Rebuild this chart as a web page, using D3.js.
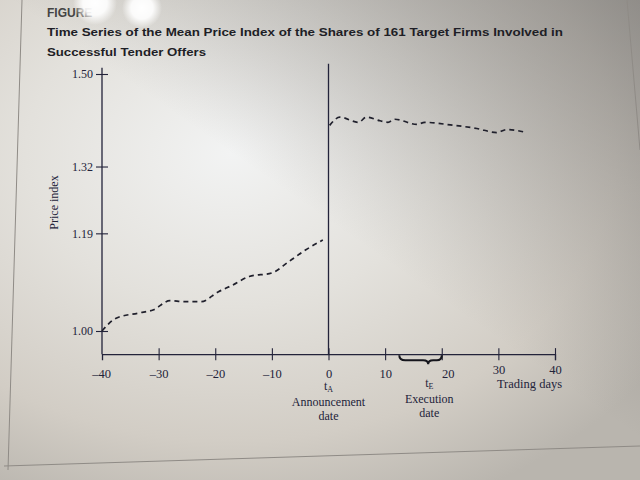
<!DOCTYPE html>
<html>
<head>
<meta charset="utf-8">
<script src="https://cdn.jsdelivr.net/npm/d3@7"></script>
<style>
  body { margin: 0; background: #d8d5cf; }
  svg { display: block; }
</style>
</head>
<body>
<div id="chart"></div>
<script>
// Values
let preDays   = [-40, -37.5, -33.5, -31, -28, -25.5, -22.5, -19.5, -17, -14, -10, -7, -4, -1];
let preIndex  = [1.000, 1.025, 1.035, 1.041, 1.059, 1.057, 1.057, 1.076, 1.089, 1.106, 1.113, 1.135, 1.158, 1.177];
let postDays  = [0.2, 2, 5.3, 6.7, 9.1, 10.5, 11.7, 15.6, 17, 21.5, 26.2, 29.7, 31.5, 35];
let postIndex = [1.400, 1.416, 1.406, 1.416, 1.409, 1.406, 1.412, 1.402, 1.406, 1.401, 1.394, 1.386, 1.392, 1.386];

let xTicks = [-40, -30, -20, -10, 0, 10, 20, 30, 40];
let yTicks = [1.00, 1.19, 1.32, 1.50];

let width = 640;
let height = 480;

let serif = "'Liberation Serif', 'DejaVu Serif', serif";
let sans = "'Liberation Sans', Arial, sans-serif";
let ink = "#23233a";

let x = d3.scaleLinear([-40, 40], [102, 555]);
let y = d3.scaleLinear([1.00, 1.50], [331, 74]);
let yBottom = 0.955, yTop = 1.512;

let svg = d3.select("#chart").append("svg")
    .attr("width", width)
    .attr("height", height);

// photo-like paper background
let defs = svg.append("defs");
let bg = defs.append("radialGradient").attr("id", "paper")
    .attr("cx", 0.36).attr("cy", 0.32).attr("r", 0.8);
bg.append("stop").attr("offset", 0).attr("stop-color", "#f2f3f3");
bg.append("stop").attr("offset", 0.4).attr("stop-color", "#e3e1dc");
bg.append("stop").attr("offset", 0.75).attr("stop-color", "#d2cdc5");
bg.append("stop").attr("offset", 1).attr("stop-color", "#b9b5ae");

let shade = defs.append("linearGradient").attr("id", "shade")
    .attr("x1", 0.35).attr("y1", 0.7).attr("x2", 1).attr("y2", 0);
shade.append("stop").attr("offset", 0.3).attr("stop-color", "#6e6c6a").attr("stop-opacity", 0);
shade.append("stop").attr("offset", 1).attr("stop-color", "#6e6c6a").attr("stop-opacity", 0.6);

let glare = defs.append("radialGradient").attr("id", "glare");
glare.append("stop").attr("offset", 0).attr("stop-color", "#ffffff").attr("stop-opacity", 1);
glare.append("stop").attr("offset", 0.55).attr("stop-color", "#ffffff").attr("stop-opacity", 0.9);
glare.append("stop").attr("offset", 1).attr("stop-color", "#ffffff").attr("stop-opacity", 0);

svg.append("rect")
    .attr("width", width)
    .attr("height", height)
    .attr("fill", "url(#paper)");
svg.append("rect")
    .attr("width", width)
    .attr("height", height)
    .attr("fill", "url(#shade)");

// page frame edges
svg.append("path")
    .attr("d", "M22,0 L8,470 M4,466 L640,446 M627,0 L640,150")
    .attr("fill", "none")
    .attr("stroke", "#8f8b86")
    .attr("stroke-width", 1);

// title
svg.append("text")
    .attr("x", 47).attr("y", 17)
    .attr("font-family", sans).attr("font-weight", "bold").attr("font-size", 12)
    .attr("fill", "#444")
    .text("FIGURE");

svg.append("text")
    .attr("x", 47).attr("y", 36)
    .attr("font-family", sans).attr("font-weight", "bold").attr("font-size", 11.5)
    .attr("textLength", 516).attr("lengthAdjust", "spacingAndGlyphs")
    .attr("fill", "#1e1e26")
    .text("Time Series of the Mean Price Index of the Shares of 161 Target Firms Involved in");

svg.append("text")
    .attr("x", 47).attr("y", 56)
    .attr("font-family", sans).attr("font-weight", "bold").attr("font-size", 11.5)
    .attr("textLength", 159).attr("lengthAdjust", "spacingAndGlyphs")
    .attr("fill", "#1e1e26")
    .text("Successful Tender Offers");

// camera glare spots
svg.append("circle").attr("cx", 95).attr("cy", 3).attr("r", 22).attr("fill", "url(#glare)");
svg.append("circle").attr("cx", 142).attr("cy", 8).attr("r", 20).attr("fill", "url(#glare)");

// x axis
let xAxis = svg.append("g")
    .attr("transform", "translate(0," + y(yBottom) + ")")
    .call(d3.axisBottom(x)
        .tickValues(xTicks)
        .tickSizeOuter(0)
        .tickSize(6)
        .tickFormat(d => d < 0 ? "\u2013" + Math.abs(d) : d));

xAxis.select(".domain").attr("stroke", ink).attr("stroke-width", 1.3);
xAxis.selectAll(".tick line")
    .attr("y1", -6).attr("y2", 6)
    .attr("stroke", ink).attr("stroke-width", 1.1)
    .attr("display", d => d == -40 ? "none" : null);
xAxis.selectAll(".tick text")
    .attr("y", d => d >= 30 ? 11 : 15)
    .attr("dx", d => d == 20 ? 6 : (d == -40 ? -1 : 0))
    .attr("font-family", serif).attr("font-size", 12.5)
    .attr("fill", ink);

// y axis
let yAxis = svg.append("g")
    .attr("transform", "translate(" + x(-40) + ",0)")
    .call(d3.axisLeft(y)
        .tickValues(yTicks)
        .tickSize(6)
        .tickFormat(d3.format(".2f")));

yAxis.select(".domain").remove();
yAxis.selectAll(".tick line")
    .attr("x1", -6).attr("x2", 6)
    .attr("stroke", ink).attr("stroke-width", 1.1);
yAxis.selectAll(".tick text")
    .attr("font-family", serif).attr("font-size", 12)
    .attr("fill", ink);

svg.append("line")
    .attr("x1", x(-40)).attr("x2", x(-40))
    .attr("y1", y(yBottom)).attr("y2", y(yTop))
    .attr("stroke", ink).attr("stroke-width", 1.3);

// announcement date line
svg.append("line")
    .attr("x1", x(0)).attr("x2", x(0))
    .attr("y1", y(yBottom)).attr("y2", y(1.52))
    .attr("stroke", ink).attr("stroke-width", 1.3);

svg.append("text")
    .attr("transform", "translate(58," + y(1.25) + ") rotate(-90)")
    .attr("text-anchor", "middle")
    .attr("font-family", serif).attr("font-size", 12)
    .attr("fill", ink)
    .text("Price index");

// the two dashed series
let line = d3.line()
    .x(d => x(d[0]))
    .y(d => y(d[1]))
    .curve(d3.curveMonotoneX);

let series = [d3.zip(preDays, preIndex), d3.zip(postDays, postIndex)];

svg.selectAll(".series")
    .data(series)
  .enter().append("path")
    .attr("class", "series")
    .attr("d", line)
    .attr("fill", "none")
    .attr("stroke", "#20202c")
    .attr("stroke-width", 1.7)
    .attr("stroke-dasharray", "5,4");

// execution-date brace under the axis
let b0 = x(12.5), b1 = x(20), bm = x(17.6), by = y(yBottom);
svg.append("path")
    .attr("d", "M" + b0 + "," + (by + 1)
        + " Q" + b0 + "," + (by + 6) + " " + (b0 + 6) + "," + (by + 6)
        + " L" + (bm - 5) + "," + (by + 6)
        + " Q" + bm + "," + (by + 6) + " " + bm + "," + (by + 10)
        + " Q" + bm + "," + (by + 6) + " " + (bm + 5) + "," + (by + 6)
        + " L" + (b1 - 5) + "," + (by + 6)
        + " Q" + b1 + "," + (by + 6) + " " + b1 + "," + (by + 1))
    .attr("fill", "none")
    .attr("stroke", "#15151c")
    .attr("stroke-width", 2);

// annotations
function label(cx, cy, sub, lines) {
    let t = svg.append("text")
        .attr("x", cx).attr("y", cy)
        .attr("text-anchor", "middle")
        .attr("font-family", serif).attr("font-size", 12)
        .attr("fill", ink);
    t.append("tspan").text("t");
    t.append("tspan").attr("font-size", 8).attr("dy", 2).text(sub);
    lines.forEach((s, i) => {
        svg.append("text")
            .attr("x", cx).attr("y", cy + 16 + 14 * i)
            .attr("text-anchor", "middle")
            .attr("font-family", serif).attr("font-size", 12)
            .attr("fill", ink)
            .text(s);
    });
}

label(x(0), 390, "A", ["Announcement", "date"]);
label(x(17.8), 387, "E", ["Execution", "date"]);

svg.append("text")
    .attr("x", x(35.5)).attr("y", 388)
    .attr("text-anchor", "middle")
    .attr("font-family", serif).attr("font-size", 12.5)
    .attr("fill", ink)
    .text("Trading days");
</script>
</body>
</html>
